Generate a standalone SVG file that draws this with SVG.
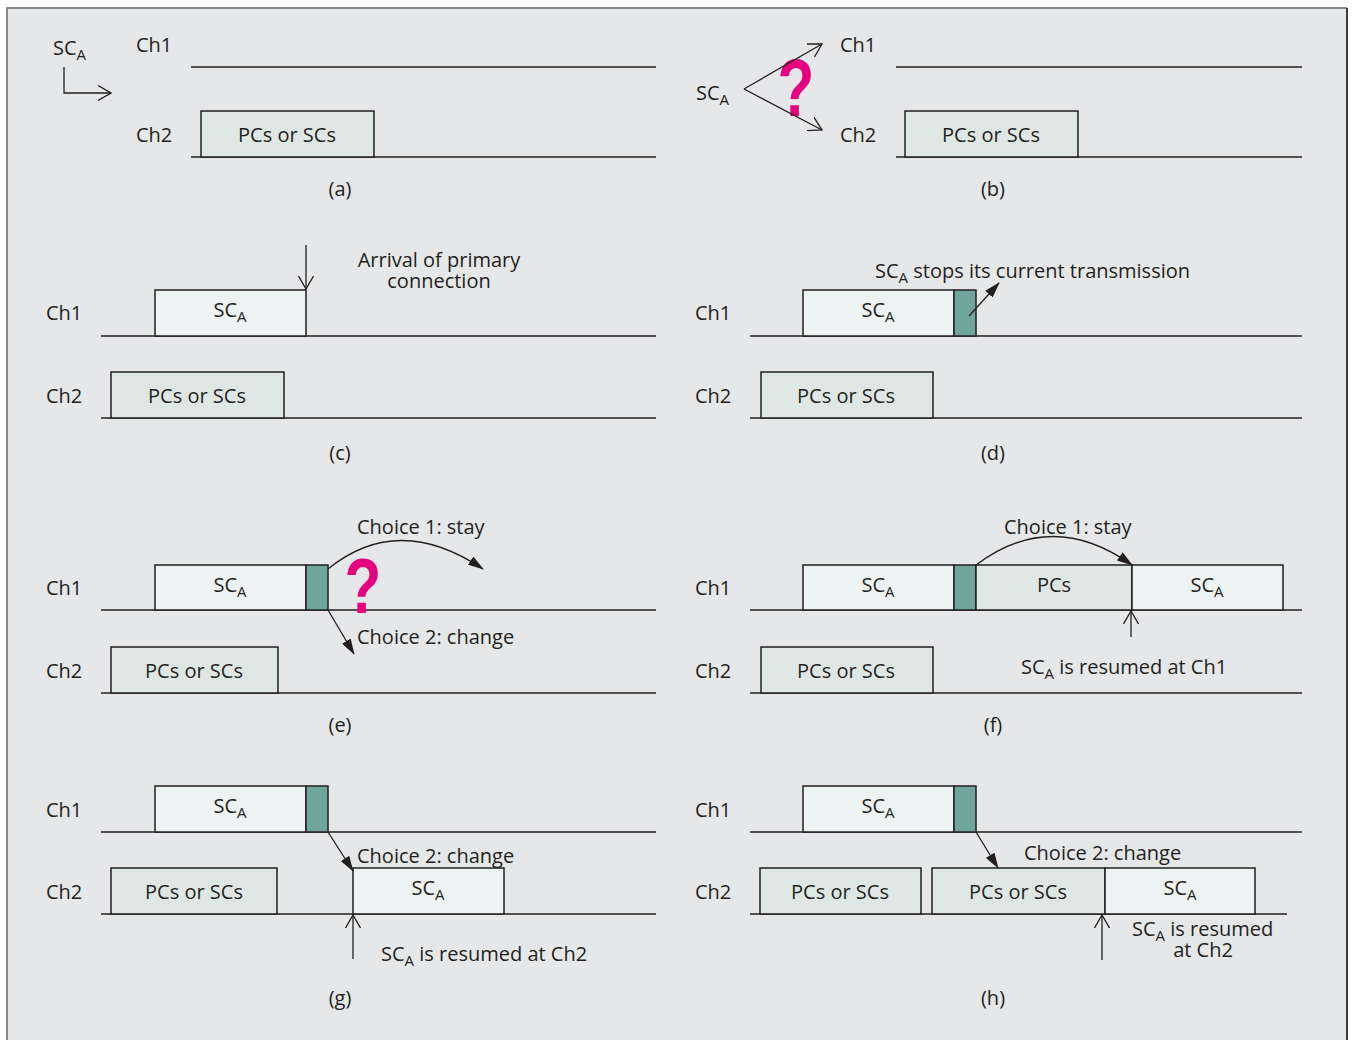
<svg xmlns="http://www.w3.org/2000/svg" width="1356" height="1040" viewBox="0 0 1356 1040">
  <defs>
    <style>
      text { font-family: "Open Sans", "Noto Sans", "Liberation Sans", sans-serif; font-size: 20px; fill: #231f20; }
      .sub { font-size: 15px; }
      .mid { text-anchor: middle; }
      .line { stroke: #231f20; stroke-width: 1.5; fill: none; }
      .box { stroke: #231f20; stroke-width: 1.5; }
      .sc { fill: #edf2f2; }
      .pc { fill: #dfe7e5; }
      .stop { fill: #6fa59b; }
      .q { font-family: "Liberation Sans", "DejaVu Sans", sans-serif; font-weight: bold; font-size: 86px; fill: #e6007e; }
      .thin { stroke: #231f20; stroke-width: 1.3; fill: none; }
    </style>
    <marker id="open" viewBox="0 0 14 16" refX="13" refY="8" markerWidth="14" markerHeight="16" markerUnits="userSpaceOnUse" orient="auto">
      <path d="M0,0.5 L13,8 L0,15.5" fill="none" stroke="#231f20" stroke-width="1.3"/>
    </marker>
    <marker id="solid" viewBox="0 0 16 10" refX="15" refY="5" markerWidth="16" markerHeight="10" markerUnits="userSpaceOnUse" orient="auto">
      <path d="M0,0 L16,5 L0,10 Z" fill="#231f20"/>
    </marker>
  </defs>

  <!-- page and frame -->
  <rect x="0" y="0" width="1356" height="1040" fill="#ffffff"/>
  <rect x="7" y="8" width="1340" height="1032" fill="#e6e7e9"/>
  <line x1="6" y1="8" x2="1347" y2="8" stroke="#8a8a8a" stroke-width="2"/>
  <line x1="7" y1="8" x2="7" y2="1040" stroke="#8a8a8a" stroke-width="2"/>
  <line x1="1347" y1="8" x2="1347" y2="1040" stroke="#3a3a3a" stroke-width="2"/>

  <!-- (a) -->
  <g id="panel-a">
    <text x="53" y="55">SC<tspan class="sub" dy="5">A</tspan></text>
    <text x="136" y="52">Ch1</text>
    <text x="136" y="142">Ch2</text>
    <line class="line" x1="191" y1="67" x2="656" y2="67"/>
    <line class="line" x1="191" y1="157" x2="656" y2="157"/>
    <g id="a-pcs"><rect class="box pc" x="201" y="111" width="173" height="46"/><text class="mid" x="287" y="142">PCs or SCs</text></g>
    <text class="mid" x="340" y="196">(a)</text>
  </g>

  <!-- (b) -->
  <g id="panel-b">
    <text x="696" y="100">SC<tspan class="sub" dy="5">A</tspan></text>
    <text x="840" y="52">Ch1</text>
    <text x="840" y="142">Ch2</text>
    <line class="line" x1="896" y1="67" x2="1302" y2="67"/>
    <line class="line" x1="896" y1="157" x2="1302" y2="157"/>
    <g id="b-pcs"><rect class="box pc" x="905" y="111" width="173" height="46"/><text class="mid" x="991" y="142">PCs or SCs</text></g>
    <text class="q" x="0" y="0" transform="translate(796,116) scale(0.7,0.95)" text-anchor="middle">?</text>
    <text class="mid" x="993" y="196">(b)</text>
  </g>

  <!-- (c) -->
  <g id="panel-c">
    <text x="46" y="320">Ch1</text>
    <text x="46" y="403">Ch2</text>
    <line class="line" x1="101" y1="336" x2="656" y2="336"/>
    <line class="line" x1="101" y1="418" x2="656" y2="418"/>
    <g id="c-sca"><rect class="box sc" x="155" y="290" width="151" height="46"/><text class="mid" x="230" y="317">SC<tspan class="sub" dy="5">A</tspan></text></g>
    <g id="c-pcs"><rect class="box pc" x="111" y="372" width="173" height="46"/><text class="mid" x="197" y="403">PCs or SCs</text></g>
    <text class="mid" x="439" y="267">Arrival of primary<tspan x="439" dy="21">connection</tspan></text>
    <text class="mid" x="340" y="460">(c)</text>
  </g>

  <!-- (d) -->
  <g id="panel-d">
    <text x="695" y="320">Ch1</text>
    <text x="695" y="403">Ch2</text>
    <line class="line" x1="750" y1="336" x2="1302" y2="336"/>
    <line class="line" x1="750" y1="418" x2="1302" y2="418"/>
    <g id="d-sca"><rect class="box sc" x="803" y="290" width="151" height="46"/><text class="mid" x="878" y="317">SC<tspan class="sub" dy="5">A</tspan></text></g>
    <rect id="d-stop" class="box stop" x="954" y="290" width="22" height="46"/>
    <g id="d-pcs"><rect class="box pc" x="761" y="372" width="172" height="46"/><text class="mid" x="846" y="403">PCs or SCs</text></g>
    <text x="875" y="278">SC<tspan class="sub" dy="5">A</tspan><tspan dy="-5"> stops its current transmission</tspan></text>
    <text class="mid" x="993" y="460">(d)</text>
  </g>

  <!-- (e) -->
  <g id="panel-e">
    <text x="46" y="595">Ch1</text>
    <text x="46" y="678">Ch2</text>
    <line class="line" x1="101" y1="610" x2="656" y2="610"/>
    <line class="line" x1="101" y1="693" x2="656" y2="693"/>
    <g id="e-sca"><rect class="box sc" x="155" y="565" width="151" height="45"/><text class="mid" x="230" y="592">SC<tspan class="sub" dy="5">A</tspan></text></g>
    <rect id="e-stop" class="box stop" x="306" y="565" width="22" height="45"/>
    <g id="e-pcs"><rect class="box pc" x="111" y="647" width="167" height="46"/><text class="mid" x="194" y="678">PCs or SCs</text></g>
    <text class="q" x="0" y="0" transform="translate(363,613) scale(0.7,0.9)" text-anchor="middle">?</text>
    <text x="357" y="534">Choice 1: stay</text>
    <text x="357" y="644">Choice 2: change</text>
    <text class="mid" x="340" y="732">(e)</text>
  </g>

  <!-- (f) -->
  <g id="panel-f">
    <text x="695" y="595">Ch1</text>
    <text x="695" y="678">Ch2</text>
    <line class="line" x1="750" y1="610" x2="1302" y2="610"/>
    <line class="line" x1="750" y1="693" x2="1302" y2="693"/>
    <g id="f-sca1"><rect class="box sc" x="803" y="565" width="151" height="45"/><text class="mid" x="878" y="592">SC<tspan class="sub" dy="5">A</tspan></text></g>
    <rect id="f-stop" class="box stop" x="954" y="565" width="22" height="45"/>
    <g id="f-pcs1"><rect class="box pc" x="976" y="565" width="156" height="45"/><text class="mid" x="1054" y="592">PCs</text></g>
    <g id="f-sca2"><rect class="box sc" x="1132" y="565" width="151" height="45"/><text class="mid" x="1207" y="592">SC<tspan class="sub" dy="5">A</tspan></text></g>
    <g id="f-pcs2"><rect class="box pc" x="761" y="647" width="172" height="46"/><text class="mid" x="846" y="678">PCs or SCs</text></g>
    <text x="1004" y="534">Choice 1: stay</text>
    <text x="1021" y="674">SC<tspan class="sub" dy="5">A</tspan><tspan dy="-5"> is resumed at Ch1</tspan></text>
    <text class="mid" x="993" y="732">(f)</text>
  </g>

  <!-- (g) -->
  <g id="panel-g">
    <text x="46" y="817">Ch1</text>
    <text x="46" y="899">Ch2</text>
    <line class="line" x1="101" y1="832" x2="656" y2="832"/>
    <line class="line" x1="101" y1="914" x2="656" y2="914"/>
    <g id="g-sca1"><rect class="box sc" x="155" y="786" width="151" height="46"/><text class="mid" x="230" y="813">SC<tspan class="sub" dy="5">A</tspan></text></g>
    <rect id="g-stop" class="box stop" x="306" y="786" width="22" height="46"/>
    <g id="g-pcs"><rect class="box pc" x="111" y="868" width="166" height="46"/><text class="mid" x="194" y="899">PCs or SCs</text></g>
    <g id="g-sca2"><rect class="box sc" x="353" y="868" width="151" height="46"/><text class="mid" x="428" y="895">SC<tspan class="sub" dy="5">A</tspan></text></g>
    <text x="357" y="863">Choice 2: change</text>
    <text x="381" y="961">SC<tspan class="sub" dy="5">A</tspan><tspan dy="-5"> is resumed at Ch2</tspan></text>
    <text class="mid" x="340" y="1005">(g)</text>
  </g>

  <!-- (h) -->
  <g id="panel-h">
    <text x="695" y="817">Ch1</text>
    <text x="695" y="899">Ch2</text>
    <line class="line" x1="750" y1="832" x2="1302" y2="832"/>
    <line class="line" x1="750" y1="914" x2="1287" y2="914"/>
    <g id="h-sca1"><rect class="box sc" x="803" y="786" width="151" height="46"/><text class="mid" x="878" y="813">SC<tspan class="sub" dy="5">A</tspan></text></g>
    <rect id="h-stop" class="box stop" x="954" y="786" width="22" height="46"/>
    <g id="h-pcs1"><rect class="box pc" x="760" y="868" width="161" height="46"/><text class="mid" x="840" y="899">PCs or SCs</text></g>
    <g id="h-pcs2"><rect class="box pc" x="932" y="868" width="173" height="46"/><text class="mid" x="1018" y="899">PCs or SCs</text></g>
    <g id="h-sca2"><rect class="box sc" x="1105" y="868" width="150" height="46"/><text class="mid" x="1180" y="895">SC<tspan class="sub" dy="5">A</tspan></text></g>
    <text x="1024" y="860">Choice 2: change</text>
    <text x="1132" y="936">SC<tspan class="sub" dy="5">A</tspan><tspan dy="-5"> is resumed</tspan><tspan x="1203" dy="21" text-anchor="middle">at Ch2</tspan></text>
    <text class="mid" x="993" y="1005">(h)</text>
  </g>

  <!-- connectors -->
  <g id="connectors">
    <path class="thin" d="M64,67 V93 H111" marker-end="url(#open)"/>
    <line class="thin" x1="744" y1="89" x2="822" y2="44" marker-end="url(#open)"/>
    <line class="thin" x1="744" y1="89" x2="822" y2="130" marker-end="url(#open)"/>
    <line class="thin" x1="306" y1="245" x2="306" y2="289" marker-end="url(#open)"/>
    <line class="thin" x1="969" y1="316" x2="999" y2="283" marker-end="url(#solid)"/>
    <path class="thin" d="M328,569 Q398,512 483,569" marker-end="url(#solid)"/>
    <line class="thin" x1="328" y1="610" x2="354" y2="654" marker-end="url(#solid)"/>
    <path class="thin" d="M976,565 Q1052,508 1132,565" marker-end="url(#solid)"/>
    <line class="thin" x1="1131" y1="637" x2="1131" y2="611" marker-end="url(#open)"/>
    <line class="thin" x1="328" y1="832" x2="353" y2="871" marker-end="url(#solid)"/>
    <line class="thin" x1="353" y1="959" x2="353" y2="915" marker-end="url(#open)"/>
    <line class="thin" x1="976" y1="832" x2="998" y2="868" marker-end="url(#solid)"/>
    <line class="thin" x1="1102" y1="960" x2="1102" y2="915" marker-end="url(#open)"/>
  </g>
</svg>
